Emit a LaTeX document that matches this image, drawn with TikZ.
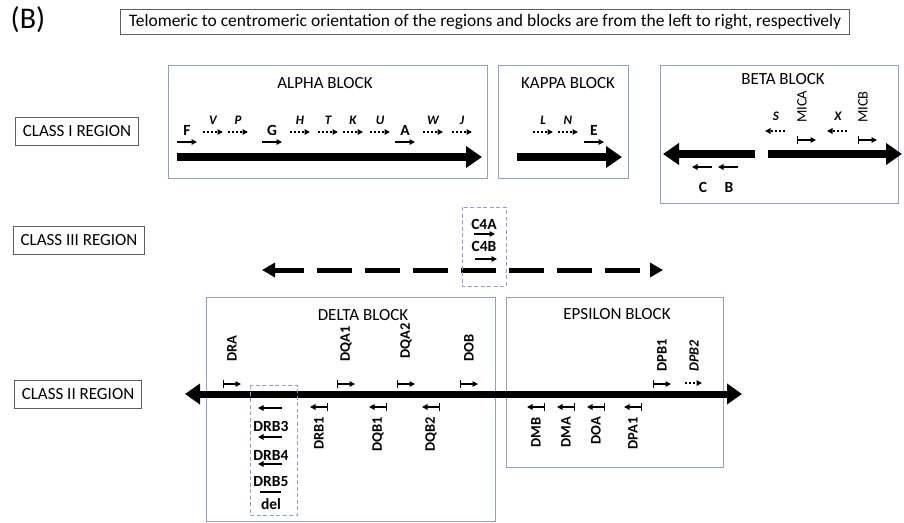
\documentclass[tikz,border=0pt]{standalone}
\usepackage{fontspec}
\setmainfont{Carlito}
\usetikzlibrary{arrows.meta, positioning}
\definecolor{boxblue}{RGB}{140,160,200}
\definecolor{framegray}{RGB}{95,95,95}
\newcommand{\fsz}[1]{\fontsize{#1}{#1}\selectfont}

\begin{document}
\begin{tikzpicture}[x=1pt, y=-1pt,
  blockbox/.style={draw=boxblue, line width=0.9pt},
  cbox/.style={draw=boxblue, line width=0.9pt, dash pattern=on 4pt off 2.5pt},
  classlab/.style={draw=framegray, line width=0.8pt, inner xsep=7pt, minimum height=28pt, font=\fsz{17}},
  title/.style={font=\fsz{17}},
  glab/.style={font=\bfseries\fsz{15.5}, inner sep=0pt},
  rlab/.style={font=\bfseries\fsz{14.5}, inner sep=0pt, rotate=90},
  plab/.style={font=\bfseries\itshape\fsz{13}, inner sep=0pt},
  gene/.style={line width=1.3pt, -{Triangle[length=5.5pt,width=5.5pt]}},
  pseudo/.style={line width=1.6pt, dash pattern=on 2.2pt off 1.8pt, -{Triangle[length=5.5pt,width=5.5pt]}},
  bgene/.style={line width=1.3pt, {Bar[width=8pt,line width=1.2pt]}-{Triangle[length=5.5pt,width=5.5pt]}},
  backbone/.style={line width=7.5pt, -{Triangle[length=16pt,width=21pt]}},
  dashbone/.style={line width=5pt, dash pattern=on 35pt off 13pt, dash phase=5pt,
    {Triangle[length=13pt,width=14pt]}-{Triangle[length=13pt,width=14pt]}},
  bothbone/.style={line width=7pt,
    {Triangle[length=15pt,width=20pt]}-{Triangle[length=15pt,width=20pt]}}]
  \useasboundingbox (0,0) rectangle (904,522);

  % header
  \node[font=\fsz{30}] (panel) at (28,20) {(B)};
  \node[draw=framegray, line width=0.8pt, inner xsep=8pt, minimum height=25pt, font=\fsz{17.5}] (note) at (485,21.5)
    {Telomeric to centromeric orientation of the regions and blocks are from the left to right, respectively};

  % region labels
  \node[classlab] (classI) at (77,131) {CLASS I REGION};
  \node[classlab] (classIII) at (79,240) {CLASS III REGION};
  \node[classlab] (classII) at (78,394) {CLASS II REGION};

  % class I: alpha, kappa, beta blocks
  \draw[blockbox] (168,65) rectangle (487,178);
  \draw[blockbox] (498,65) rectangle (628,178);
  \draw[blockbox] (660,65) rectangle (898,203);
  \node[title] (alphaT) at (325,83) {ALPHA BLOCK};
  \node[title] (kappaT) at (568,83) {KAPPA BLOCK};
  \node[title] (betaT) at (783,79) {BETA BLOCK};

  \draw[backbone] (177,157) -- (482,157);
  \draw[backbone] (517,157) -- (622,157);
  \draw[backbone] (755,154) -- (663,154);
  \draw[backbone] (768,154) -- (902,154);

  \foreach \xa/\lab in {177/F, 262/G, 395/A, 584/E} {
    \node[glab] (g\lab) at (\xa+10,130) {\lab};
    \draw[gene] (\xa,142) -- (\xa+20,142);
  }
  \foreach \xa/\lab in {203/V, 228/P, 290/H, 318/T, 343/K, 370/U, 423/W, 452/J, 533/L, 558/N} {
    \node[plab] (p\lab) at (\xa+10,120) {\lab};
    \draw[pseudo] (\xa,132) -- (\xa+20,132);
  }
  % beta block, reversed genes
  \foreach \xa/\lab in {785/S, 847/X} {
    \node[plab] (p\lab) at (\xa-9,116) {\lab};
    \draw[pseudo] (\xa,131) -- (\xa-20,131);
  }
  \foreach \xa/\lab in {712/C, 738/B} {
    \node[glab] (g\lab) at (\xa-9,187) {\lab};
    \draw[gene] (\xa,167) -- (\xa-20,167);
  }
  \foreach \xa/\lab in {797/MICA, 858/MICB} {
    \node[font=\fsz{14.5}, inner sep=0pt, rotate=90, anchor=west] (g\lab) at (\xa+5,123) {\lab};
    \draw[bgene] (\xa,140) -- (\xa+19,140);
  }

  % class III
  \draw[dashbone] (262,270) -- (663,270);
  \draw[cbox] (462,207) rectangle (506,286);
  \node[glab] (gC4A) at (484,224) {C4A};
  \draw[gene] (474,234) -- (495,234);
  \node[glab] (gC4B) at (484,246) {C4B};
  \draw[gene] (475,259) -- (497,259);

  % class II: delta and epsilon blocks
  \draw[blockbox] (206,297) rectangle (495,521);
  \draw[blockbox] (506,297) rectangle (723,467);
  \node[title] (deltaT) at (363,315) {DELTA BLOCK};
  \node[title] (epsT) at (617,314) {EPSILON BLOCK};
  \draw[bothbone] (185,394) -- (742,394);

  % genes above the line
  \foreach \xa/\yb/\lab in {223/362/DRA, 337/362/DQA1, 397/359/DQA2, 460/362/DOB, 653/372/DPB1} {
    \node[rlab, anchor=west] (g\lab) at (\xa+9,\yb) {\lab};
    \draw[bgene] (\xa,384) -- (\xa+18,384);
  }
  \node[font=\bfseries\itshape\fsz{14}, inner sep=0pt, rotate=90, anchor=west] (pDPB2) at (694,372) {DPB2};
  \draw[pseudo] (685,383) -- (702,383);

  % genes below the line
  \foreach \xa/\lab in {328/DRB1, 387/DQB1, 440/DQB2, 545/DMB, 575/DMA, 605/DOA, 642/DPA1} {
    \node[rlab, anchor=east] (g\lab) at (\xa-9,417) {\lab};
    \draw[bgene] (\xa,407) -- (\xa-18,407);
  }

  % DRB cluster
  \draw[cbox] (250,385) rectangle (297,515);
  \foreach \yg/\lab in {408/DRB3, 437/DRB4, 464/DRB5} {
    \draw[gene] (282,\yg) -- (258,\yg);
    \node[glab] (g\lab) at (271,\yg+18) {\lab};
  }
  \draw[line width=1.3pt] (260,492) -- (281,492);
  \node[glab] (gdel) at (271,504) {del};
\end{tikzpicture}
\end{document}
